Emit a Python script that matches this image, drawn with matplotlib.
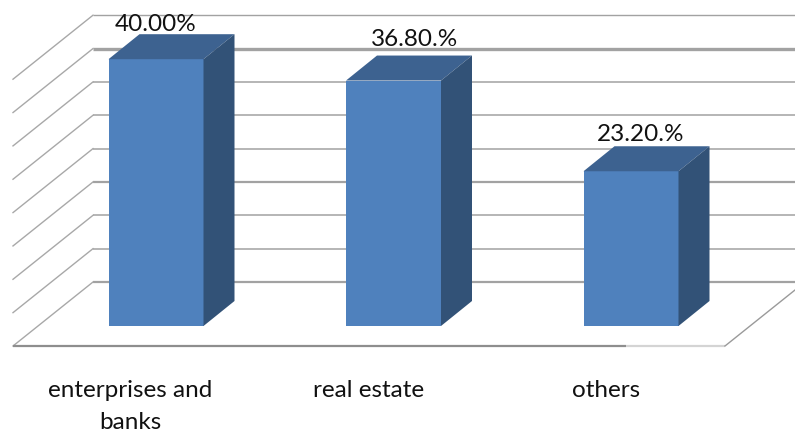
#!/usr/bin/env python

import matplotlib
matplotlib.use('Agg')
import matplotlib.pyplot as plt

plt.rcParams['font.family'] = ['Lato', 'DejaVu Sans']

categories = ['enterprises and\nbanks', 'real estate', 'others']
values = [40.0, 36.8, 23.2]
value_labels = ['40.00%', '36.80.%', '23.20.%']
grid_ticks = [0, 5, 10, 15, 20, 25, 30, 35, 40]
grid_widths = [1.6, 1.1, 1.1, 1.6, 1.1, 1.1, 1.1, 2.4, 1.0]

W, H = 795, 432
# pixels per data unit, the chart is an oblique fake 3d so it is all done in one axes
px_x = 237.5
px_y = 6.67
x0 = 156.0
y0 = 326.0

fig = plt.figure(figsize=(W / 100., H / 100.), dpi=100)
ax = fig.add_axes([0, 0, 1, 1])
ax.set_xlim(-x0 / px_x, (W - x0) / px_x)
ax.set_ylim(-(H - y0) / px_y, y0 / px_y)
ax.axis('off')

bar_w = 95 / px_x
dx = 31 / px_x
dy = 25 / px_y
wall_x = -63 / px_x        # left edge of back wall relative to first bar
wall_y = 44 / px_y         # back wall floor above the bars' base
side_dx = -80 / px_x       # diagonal run of the side wall
side_dy = -64 / px_y

grid_col = '#a2a2a2'

for tick, lw in zip(grid_ticks, grid_widths):
  y = tick + wall_y
  ax.plot([wall_x, 10], [y, y], color=grid_col, lw=lw, solid_capstyle='butt', zorder=1)
  ax.plot([wall_x, wall_x + side_dx], [y, y + side_dy], color='#a8a8a8', lw=1.0, zorder=1)

# floor
front_y = wall_y + side_dy
front_left = wall_x + side_dx
front_mid = (626 - x0) / px_x
front_right = (725 - x0) / px_x
ax.plot([front_left, front_mid], [front_y, front_y], color='#8e8e8e', lw=1.6, solid_capstyle='butt', zorder=1)
ax.plot([front_mid, front_right], [front_y, front_y], color='#d4d4d4', lw=1.6, solid_capstyle='butt', zorder=1)
ax.plot([front_right, front_right - side_dx], [front_y, front_y - side_dy], color='#9a9a9a', lw=1.0, zorder=1)

label_shift = [(0, 1.4), (0.09, 2.4), (0.04, 1.7)]

for i, (val, lab) in enumerate(zip(values, value_labels)):
  l = i - bar_w / 2
  r = i + bar_w / 2
  ax.fill([l, r, r, l], [0, 0, val, val], color='#4f81bd', lw=0, zorder=3)
  ax.fill([l, r, r + dx, l + dx], [val, val, val + dy, val + dy], color='#3d6290', lw=0, zorder=3)
  ax.fill([r, r + dx, r + dx, r], [0, dy, val + dy, val], color='#325277', lw=0, zorder=3)
  sx, sy = label_shift[i]
  ax.text(i + sx, val + dy + sy, lab, ha='center', va='center', fontsize=17.5, color='#111111', zorder=4)

for i, cat in enumerate(categories):
  ln = cat.split('\n')
  ax.text(i - 0.107, -9.7, ln[0], ha='center', va='center', fontsize=17.5, color='#111111')
  if len(ln) > 1:
    ax.text(i - 0.107, -14.5, ln[1], ha='center', va='center', fontsize=17.5, color='#111111')

plt.savefig('out.png', dpi=100)
